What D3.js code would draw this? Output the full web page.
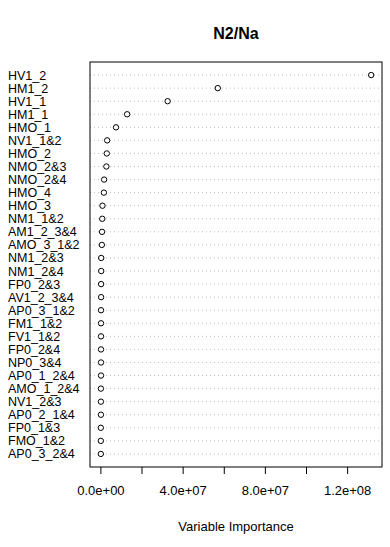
<!DOCTYPE html>
<html lang="en">
<head>
  <meta charset="UTF-8">
  <title>N2/Na</title>
  <script src="https://d3js.org/d3.v7.min.js"></script>
  <style>
    body { margin: 0; background: #fff; font-family: "Liberation Sans", Arial, sans-serif; }
    svg { display: block; }
  </style>
</head>
<body>
  <script>
    // variables from top to bottom, with their importance
    const labels = [
      "HV1_2", "HM1_2", "HV1_1", "HM1_1", "HMO_1", "NV1_1&2", "HMO_2", "NMO_2&3",
      "NMO_2&4", "HMO_4", "HMO_3", "NM1_1&2", "AM1_2_3&4", "AMO_3_1&2", "NM1_2&3",
      "NM1_2&4", "FP0_2&3", "AV1_2_3&4", "AP0_3_1&2", "FM1_1&2", "FV1_1&2", "FP0_2&4",
      "NP0_3&4", "AP0_1_2&4", "AMO_1_2&4", "NV1_2&3", "AP0_2_1&4", "FP0_1&3",
      "FMO_1&2", "AP0_3_2&4"
    ];
    const importance = [
      1.317e8, 5.71e7, 3.27e7, 1.30e7, 7.6e6, 3.3e6, 3.1e6, 2.9e6,
      1.8e6, 1.7e6, 1.0e6, 0.9e6, 0.8e6, 0.7e6, 0.4e6,
      0.4e6, 0.35e6, 0.35e6, 0.3e6, 0.3e6, 0.3e6, 0.3e6,
      0.3e6, 0.3e6, 0.25e6, 0.25e6, 0.25e6, 0.2e6,
      0.2e6, 0.2e6
    ];
    const tickValues = [0, 2e7, 4e7, 6e7, 8e7, 1e8, 1.2e8];
    const tickLabels = { 0: "0.0e+00", 4e7: "4.0e+07", 8e7: "8.0e+07", 1.2e8: "1.2e+08" };

    const W = 390, H = 547;
    const plotL = 90, plotR = 382, plotT = 62, plotB = 467;

    const svg = d3.select("body").append("svg")
      .attr("width", W)
      .attr("height", H);

    const lo = d3.min(importance), hi = d3.max(importance);
    const pad = (hi - lo) * 0.04;
    const x = d3.scaleLinear().domain([lo - pad, hi + pad]).range([plotL, plotR]);
    const n = labels.length;
    const y = d3.scaleLinear().domain([0, n + 1]).range([plotB, plotT]);
    const rowY = i => y(n - i);

    // dotted guide lines
    svg.append("g")
      .selectAll("line")
      .data(labels)
      .join("line")
      .attr("x1", plotL)
      .attr("x2", plotR)
      .attr("y1", (d, i) => rowY(i))
      .attr("y2", (d, i) => rowY(i))
      .attr("stroke", "#bebebe")
      .attr("stroke-width", 1)
      .attr("stroke-dasharray", "1,3");

    // points
    svg.append("g")
      .selectAll("circle")
      .data(importance)
      .join("circle")
      .attr("cx", d => x(d))
      .attr("cy", (d, i) => rowY(i))
      .attr("r", 2.7)
      .attr("fill", "#fff")
      .attr("stroke", "#000")
      .attr("stroke-width", 1);

    // row labels
    svg.append("g")
      .selectAll("text")
      .data(labels)
      .join("text")
      .attr("x", 8)
      .attr("y", (d, i) => rowY(i))
      .attr("dy", "0.36em")
      .attr("font-size", 12.5)
      .text(d => d);

    // box
    svg.append("rect")
      .attr("x", plotL)
      .attr("y", plotT)
      .attr("width", plotR - plotL)
      .attr("height", plotB - plotT)
      .attr("fill", "none")
      .attr("stroke", "#000")
      .attr("stroke-width", 1);

    // x axis
    const axis = svg.append("g")
      .attr("transform", `translate(0,${plotB})`)
      .call(d3.axisBottom(x)
        .tickValues(tickValues)
        .tickSize(7)
        .tickPadding(12)
        .tickFormat(d => tickLabels[d] || ""));
    axis.select(".domain").remove();
    axis.selectAll("text")
      .attr("font-size", 13)
      .attr("font-family", "Liberation Sans, Arial, sans-serif");

    svg.append("text")
      .attr("x", (plotL + plotR) / 2)
      .attr("y", 531)
      .attr("text-anchor", "middle")
      .attr("font-size", 13)
      .text("Variable Importance");

    svg.append("text")
      .attr("x", (plotL + plotR) / 2)
      .attr("y", 39)
      .attr("text-anchor", "middle")
      .attr("font-size", 16)
      .attr("font-weight", "bold")
      .text("N2/Na");
  </script>
</body>
</html>
